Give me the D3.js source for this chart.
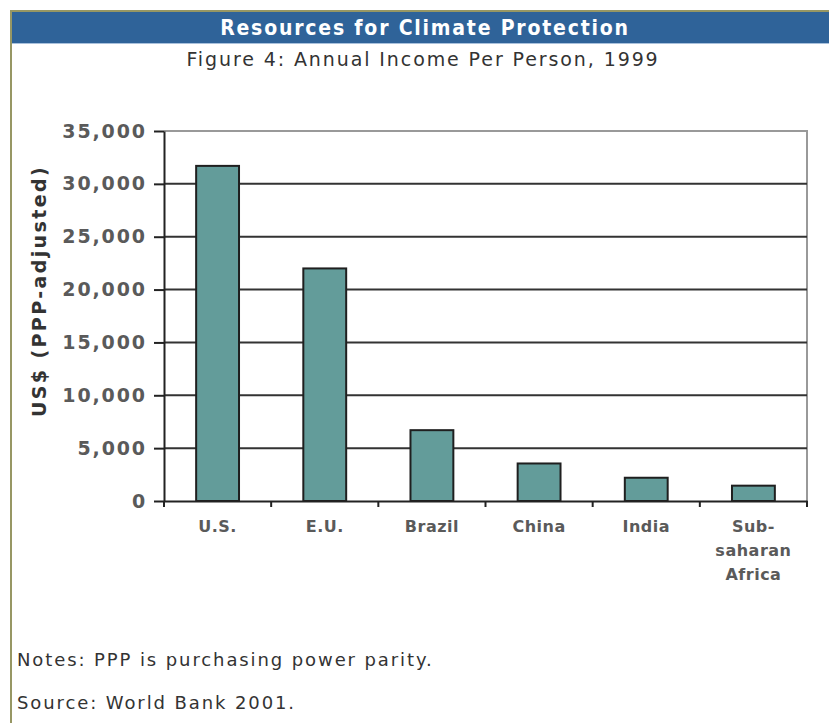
<!DOCTYPE html>
<html><head><meta charset="utf-8">
<script src="https://cdn.jsdelivr.net/npm/d3@7"></script>
<style>
html,body{margin:0;padding:0;background:#fff;}
</style></head>
<body>
<svg id="chart" width="829" height="723"></svg>
<script>
const categories = ["U.S.", "E.U.", "Brazil", "China", "India", "Sub-saharan Africa"];
const categoryLines = [["U.S."], ["E.U."], ["Brazil"], ["China"], ["India"], ["Sub-", "saharan", "Africa"]];
const values = [31700, 22000, 6700, 3550, 2200, 1450];
const yTicks = [0, 5000, 10000, 15000, 20000, 25000, 30000, 35000];
const headerTitle = "Resources for Climate Protection";
const subtitle = "Figure 4: Annual Income Per Person, 1999";
const yTitle = "US$ (PPP-adjusted)";
const notes = ["Notes: PPP is purchasing power parity.", "Source: World Bank 2001."];

const svg = d3.select("#chart");
const W = 829, H = 723;

// frame
svg.append("rect").attr("x", 11).attr("y", 11).attr("width", W).attr("height", H)
  .attr("fill", "#fff").attr("stroke", "#979764").attr("stroke-width", 2);
svg.append("rect").attr("x", 12).attr("y", 12).attr("width", W - 12).attr("height", 31)
  .attr("fill", "#2F6399");
svg.append("line").attr("x1", 12).attr("x2", W).attr("y1", 43.5).attr("y2", 43.5)
  .attr("stroke", "#a9c1dc").attr("stroke-width", 1);
svg.append("text").attr("x", 425).attr("y", 35).attr("text-anchor", "middle")
  .attr("font-family", "DejaVu Sans Condensed, DejaVu Sans").attr("font-weight", "bold")
  .attr("font-size", 21).attr("letter-spacing", 1.8).attr("fill", "#fff").text(headerTitle);
svg.append("text").attr("x", 423).attr("y", 66).attr("text-anchor", "middle")
  .attr("font-family", "DejaVu Sans").attr("font-size", 19).attr("letter-spacing", 1.9)
  .attr("fill", "#333").text(subtitle);

const m = {left: 164, right: 807, top: 131, bottom: 501};
const x = d3.scaleBand().domain(categories).range([m.left, m.right]).paddingInner(0.6).paddingOuter(0.3);
const xb = d3.scaleBand().domain(categories).range([m.left, m.right]);
const y = d3.scaleLinear().domain([0, 35000]).range([m.bottom, m.top]);

// plot border (top & right)
svg.append("path").attr("d", `M${m.left},${m.top}H${m.right}V${m.bottom}`)
  .attr("fill", "none").attr("stroke", "#999").attr("stroke-width", 2);

// gridlines
svg.append("g").selectAll("line").data(yTicks.filter(d => d > 0 && d < 35000)).join("line")
  .attr("x1", m.left).attr("x2", m.right).attr("y1", d => y(d)).attr("y2", d => y(d))
  .attr("stroke", "#333").attr("stroke-width", 2);

// bars
svg.append("g").selectAll("rect").data(values).join("rect")
  .attr("x", (d, i) => x(categories[i])).attr("width", x.bandwidth())
  .attr("y", d => y(d)).attr("height", d => y(0) - y(d))
  .attr("fill", "#639C9A").attr("stroke", "#1f1f1f").attr("stroke-width", 2);

// y axis
const yAxis = d3.axisLeft(y).tickValues(yTicks).tickSize(10).tickSizeOuter(0).tickPadding(7)
  .tickFormat(d3.format(","));
const gy = svg.append("g").attr("transform", `translate(${m.left},0)`).call(yAxis);
gy.select(".domain").attr("stroke", "#222").attr("stroke-width", 2);
gy.selectAll(".tick line").attr("stroke", "#222").attr("stroke-width", 2);
gy.selectAll(".tick text").attr("font-family", "DejaVu Sans").attr("font-weight", "bold")
  .attr("font-size", 19).attr("fill", "#5a5a5a").attr("letter-spacing", 1.9);

// x axis
const xAxis = d3.axisBottom(xb).tickSize(0).tickSizeOuter(0).tickFormat("");
const gx = svg.append("g").attr("transform", `translate(0,${m.bottom})`).call(xAxis);
gx.select(".domain").attr("stroke", "#222").attr("stroke-width", 2);
gx.selectAll(".tick").remove();
const bounds = [m.left, ...categories.map(c => xb(c) + xb.bandwidth())];
gx.selectAll("line.bt").data(bounds).join("line").attr("class", "bt")
  .attr("x1", d => d).attr("x2", d => d).attr("y1", 0).attr("y2", 6)
  .attr("stroke", "#222").attr("stroke-width", 2);

// category labels
const lab = svg.append("g").selectAll("text").data(categoryLines).join("text")
  .attr("text-anchor", "middle").attr("font-family", "DejaVu Sans").attr("font-weight", "bold")
  .attr("font-size", 16).attr("letter-spacing", 0.5).attr("fill", "#5a5a5a")
  .attr("transform", (d, i) => `translate(${xb(categories[i]) + xb.bandwidth() / 2},532)`);
lab.selectAll("tspan").data(d => d).join("tspan").attr("x", 0).attr("dy", (d, i) => i ? 24 : 0).text(d => d);

// y title
svg.append("text").attr("transform", "translate(46,291) rotate(-90)").attr("text-anchor", "middle")
  .attr("font-family", "DejaVu Sans").attr("font-weight", "bold").attr("font-size", 19)
  .attr("letter-spacing", 2.4).attr("fill", "#333").text(yTitle);

// notes
svg.append("g").selectAll("text").data(notes).join("text")
  .attr("x", 17).attr("y", (d, i) => 666 + i * 43)
  .attr("font-family", "DejaVu Sans").attr("font-size", 18).attr("letter-spacing", 1.9)
  .attr("fill", "#333").text(d => d);
</script>
</body></html>
